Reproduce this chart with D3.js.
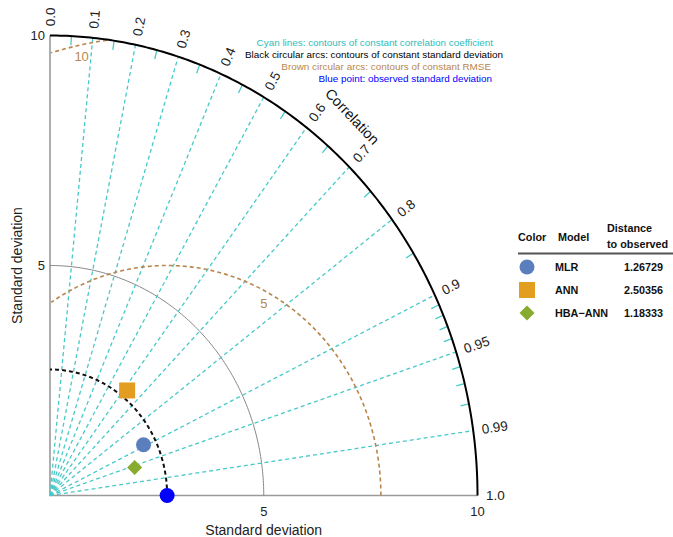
<!DOCTYPE html>
<html><head><meta charset="utf-8">
<script src="https://cdn.jsdelivr.net/npm/d3@7"></script>
<style>body{margin:0;background:#fff}svg{display:block;font-family:"Liberation Sans",Arial,sans-serif}</style>
</head><body>
<svg id="c" width="673" height="537"></svg>
<script>
// ---- data ----
const observedSD = 2.74;
const models = ["MLR", "ANN", "HBA\u2212ANN"];
const modelSD = [2.45, 2.91, 2.07];
const modelCorr = [0.893, 0.62, 0.956];
const distances = ["1.26729", "2.50356", "1.18333"];
const modelColors = ["#5b7fbd", "#e39e22", "#86ab2e"];
const modelShapes = ["circle", "square", "diamond"];
const corrMajor = [0.1, 0.2, 0.3, 0.4, 0.5, 0.6, 0.7, 0.8, 0.9, 0.95, 0.99];
const corrLabels = ["0.0","0.1","0.2","0.3","0.4","0.5","0.6","0.7","0.8","0.9","0.95","0.99","1.0"];
const corrLabelVals = [0,0.1,0.2,0.3,0.4,0.5,0.6,0.7,0.8,0.9,0.95,0.99,1.0];
const corrMinor = [0.05,0.15,0.25,0.35,0.45,0.55,0.65,0.75,0.85,0.91,0.92,0.93,0.94,0.96,0.97,0.98];
const sdTicks = [5, 10];
const rmseLevels = [5, 10];
const sdMax = 10;
const notes = ["Cyan lines: contours of constant correlation coefficient",
  "Black circular arcs: contours of constant standard deviation",
  "Brown circular arcs: contours of constant RMSE",
  "Blue point: observed standard deviation"];
const noteColors = ["#2fbcbc", "#000000", "#b8864e", "#0000ff"];

// ---- scales ----
const svg = d3.select("#c");
const x = d3.scaleLinear().domain([0, 10]).range([50, 477.5]);
const y = d3.scaleLinear().domain([0, 10]).range([495.5, 35.5]);
const cyan = "#48c9c9", brown = "#b8864e";
const line = d3.line().x(d => x(d[0])).y(d => y(d[1]));

function arcPts(cx, r, a0, a1, n) {
  return d3.range(n + 1).map(i => { const a = a0 + (a1 - a0) * i / n; return [cx + r * Math.cos(a), r * Math.sin(a)]; });
}

// axes (grey)
svg.append("path").attr("d", line([[0, sdMax], [0, 0], [sdMax, 0]])).attr("fill", "none").attr("stroke", "#9a9a9a").attr("stroke-width", 1.6);

// grey sd arc at 5
svg.append("path").attr("d", line(arcPts(0, 5, 0, Math.PI / 2, 120))).attr("fill", "none").attr("stroke", "#888").attr("stroke-width", 1);

// cyan correlation lines
corrMajor.forEach(c => {
  const a = Math.acos(c);
  svg.append("path").attr("d", line([[0, 0], [sdMax * Math.cos(a), sdMax * Math.sin(a)]]))
    .attr("fill", "none").attr("stroke", cyan).attr("stroke-width", 1.3).attr("stroke-dasharray", "4,3");
});

// minor ticks on outer arc
corrMinor.forEach(c => {
  const a = Math.acos(c);
  svg.append("path").attr("d", line([[9.8 * Math.cos(a), 9.8 * Math.sin(a)], [sdMax * Math.cos(a), sdMax * Math.sin(a)]]))
    .attr("fill", "none").attr("stroke", cyan).attr("stroke-width", 1.3);
});

// RMSE arcs (clipped to within the outer circle, x>=0)
rmseLevels.forEach(r => {
  const pts = [];
  for (let i = 0; i <= 400; i++) {
    const a = Math.PI * i / 400;
    const px = observedSD + r * Math.cos(a), py = r * Math.sin(a);
    if (px >= 0 && px * px + py * py <= sdMax * sdMax + 1e-9) pts.push([px, py]);
  }
  svg.append("path").attr("d", line(pts)).attr("fill", "none").attr("stroke", brown).attr("stroke-width", 1.6).attr("stroke-dasharray", "4,3");
});
const rmseLabelPos = [[5.0, 4.18], [0.74, 9.55]];
rmseLevels.forEach((r, i) => {
  svg.append("text").attr("x", x(rmseLabelPos[i][0])).attr("y", y(rmseLabelPos[i][1])).attr("dy", "0.35em")
    .attr("text-anchor", "middle").attr("font-size", 13).attr("fill", brown).text(r);
});

// observed sd dashed arc
svg.append("path").attr("d", line(arcPts(0, observedSD, 0, Math.PI / 2, 80))).attr("fill", "none")
  .attr("stroke", "#111").attr("stroke-width", 2).attr("stroke-dasharray", "4,3");

// outer arc
svg.append("path").attr("d", line(arcPts(0, sdMax, 0, Math.PI / 2, 200))).attr("fill", "none").attr("stroke", "#000").attr("stroke-width", 2);

// correlation labels
corrLabelVals.forEach((c, i) => {
  const a = Math.acos(c);
  const px = x(10.2 * Math.cos(a)), py = y(10.2 * Math.sin(a));
  const ang = Math.atan2(y(0) - py, px - x(0)) * 180 / Math.PI;
  svg.append("text").attr("transform", `translate(${px},${py}) rotate(${-ang})`).attr("dy", "0.35em")
    .attr("font-size", 13.5).attr("fill", "#222").text(corrLabels[i]);
});
svg.append("text").attr("transform", `translate(${x(7.07)},${y(8.24)}) rotate(46.5)`).attr("dy", "0.35em")
  .attr("text-anchor", "middle").attr("font-size", 14.5).attr("fill", "#111").text("Correlation");

// sd tick labels
sdTicks.forEach(t => {
  svg.append("text").attr("x", x(t)).attr("y", y(0) + 20).attr("text-anchor", "middle").attr("font-size", 13).attr("fill", "#222").text(t);
  svg.append("text").attr("x", x(0) - 5).attr("y", y(t)).attr("dy", "0.35em").attr("text-anchor", "end").attr("font-size", 13).attr("fill", "#222").text(t);
});
svg.append("text").attr("x", x(5)).attr("y", 535).attr("text-anchor", "middle").attr("font-size", 14).attr("fill", "#222").text("Standard deviation");
svg.append("text").attr("transform", `translate(22,${y(5)}) rotate(-90)`).attr("text-anchor", "middle").attr("font-size", 14).attr("fill", "#222").text("Standard deviation");

// notes
const noteX = [493, 503, 491, 492];
notes.forEach((t, i) => {
  svg.append("text").attr("x", noteX[i]).attr("y", 45.5 + i * 12.3).attr("text-anchor", "end").attr("font-size", 9.9)
    .attr("fill", noteColors[i]).text(t);
});

// symbols
function drawSym(g, shape, cx, cy, col) {
  if (shape === "circle") g.append("circle").attr("cx", cx).attr("cy", cy).attr("r", 7.5).attr("fill", col);
  else if (shape === "square") g.append("rect").attr("x", cx - 8).attr("y", cy - 8).attr("width", 16).attr("height", 16).attr("fill", col);
  else g.append("path").attr("d", `M${cx},${cy - 7.5}L${cx + 7.5},${cy}L${cx},${cy + 7.5}L${cx - 7.5},${cy}Z`).attr("fill", col);
}
models.forEach((m, i) => {
  const a = Math.acos(modelCorr[i]);
  drawSym(svg, modelShapes[i], x(modelSD[i] * Math.cos(a)), y(modelSD[i] * Math.sin(a)), modelColors[i]);
});
svg.append("circle").attr("cx", x(observedSD)).attr("cy", y(0)).attr("r", 7.5).attr("fill", "#0000ff");

// table legend
const tg = svg.append("g").attr("font-size", 10.8).attr("font-weight", "bold").attr("fill", "#111");
tg.append("text").attr("x", 518).attr("y", 241).text("Color");
tg.append("text").attr("x", 558).attr("y", 241).text("Model");
tg.append("text").attr("x", 607).attr("y", 232).text("Distance");
tg.append("text").attr("x", 607).attr("y", 248).text("to observed");
svg.append("line").attr("x1", 518).attr("x2", 673).attr("y1", 253.5).attr("y2", 253.5).attr("stroke", "#555").attr("stroke-width", 2);
models.forEach((m, i) => {
  const cy = 267 + i * 23;
  drawSym(svg, modelShapes[i], 527, cy, modelColors[i]);
  tg.append("text").attr("x", 555).attr("y", cy).attr("dy", "0.35em").text(m);
  tg.append("text").attr("x", 663).attr("y", cy).attr("dy", "0.35em").attr("text-anchor", "end").text(distances[i]);
});
</script>
</body></html>
